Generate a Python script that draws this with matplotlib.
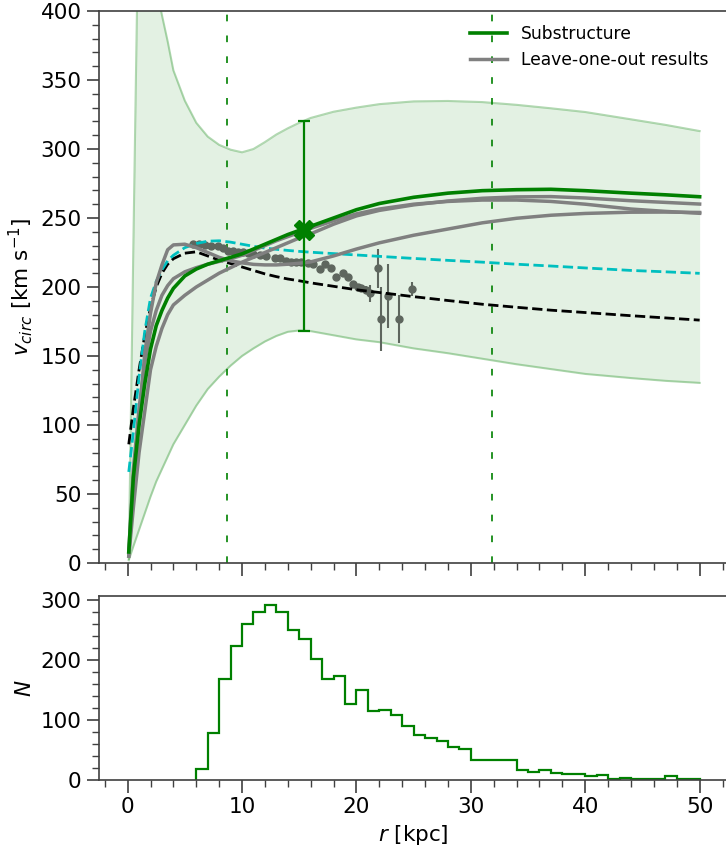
import numpy as np
import matplotlib
matplotlib.use("Agg")
import matplotlib.pyplot as plt
from matplotlib.ticker import MultipleLocator
from matplotlib.lines import Line2D


# ============================================================
# Data
# ============================================================

# common radius grid for the model curves (kpc)
R = [0.1, 0.5, 1, 1.5, 2, 2.5, 3, 3.5, 4, 5, 6, 7, 8, 9, 10, 11, 12, 13, 14,
     15, 16, 18, 20, 22, 25, 28, 31, 34, 37, 40, 44, 47, 50]

# substructure circular velocity (km/s)
v_sub = [8, 62, 100, 130, 155, 172, 183, 192, 199, 208, 213, 216.5, 219,
         221.5, 224, 227.5, 231, 234.5, 238, 241, 244, 250, 256, 260.5, 265,
         268, 269.8, 270.5, 270.8, 269.8, 268, 266.8, 265.4]

# leave-one-out curves
v_loo_a = [5, 40, 80, 110, 140, 157, 170, 180, 187, 194, 200, 205, 210, 214,
           218, 221.5, 225, 228.5, 232, 235.5, 238.5, 245.5, 251.5, 255.5,
           259.5, 262.3, 264.3, 265.3, 265.5, 264.5, 262.5, 261.3, 260.1]
v_loo_b = [8, 68, 112, 145, 168, 183, 194, 201, 206, 211, 214, 216.5, 218.5,
           220.5, 223, 226.5, 230, 233.5, 236.5, 239.5, 242.5, 248, 253,
           256.5, 260, 262, 263, 263, 262, 260, 256.5, 254.8, 253.4]
v_loo_c = [5, 55, 105, 152, 181, 203, 216, 227, 230.5, 231, 228.5, 225, 221.5,
           219, 217.5, 216.4, 216, 216, 216.5, 217.2, 218.2, 222.5, 227.5, 232,
           237.5, 242, 246.5, 249.8, 252, 253.3, 254.2, 254.3, 254]

# reference models (dashed)
v_black = [86, 112, 140, 165, 185, 200, 210, 216.5, 220.5, 224.5, 225.5,
           222.5, 219.5, 217, 214.5, 212, 209.5, 207.5, 205.8, 204.5, 203,
           200.5, 198, 196, 193, 190.2, 187.5, 185.3, 183.2, 181.5, 179.2,
           177.6, 176]
v_cyan = [66, 95, 135, 168, 192, 204, 212.5, 219, 223, 228.5, 231.5, 233.2,
          233.5, 232.5, 231, 229.5, 228.2, 227.3, 226.5, 225.8, 225.2, 224.2,
          223.2, 222.2, 220.7, 219.3, 218, 216.5, 215.2, 213.8, 212, 211, 209.9]

# uncertainty band
band_lo = [2, 12, 24, 36, 48, 59, 68, 77, 86, 100, 114, 126, 135, 143, 150,
           155.5, 160.5, 164.5, 167.5, 168.5, 168, 165, 162, 160, 155.5, 152,
           148, 144, 140.5, 137, 134, 132, 130.5]
band_hi = [3, 230, 500, 470, 440, 418, 397, 378, 357, 335, 319, 309, 303,
           299.5, 297.6, 300, 305, 310.5, 315, 319, 322.5, 327, 330, 332.5,
           334.5, 334.8, 334, 332, 329.5, 326.8, 321.5, 317.5, 313]

# observed rotation curve points
obs_r = [5.71, 6.2, 6.73, 7.31, 7.9, 8.35, 8.77, 9.21, 9.65, 10.08, 10.52,
         10.95, 11.54, 12.12, 12.85, 13.29, 13.87, 14.31, 14.74, 15.18, 15.76,
         16.2, 16.78, 17.22, 17.8, 18.24, 18.82, 19.26, 19.7, 20.13, 20.42,
         20.86, 21.15, 21.88, 22.17, 22.76, 23.72, 24.85]
obs_v = [231.2, 231, 230.4, 229.9, 229.7, 228, 226.3, 226.1, 225.6, 225.1,
         224.4, 223.9, 223.2, 222.7, 221.3, 220.8, 219.1, 218.4, 218.1, 217.9,
         217.6, 216.7, 212.8, 216.7, 213.5, 207.5, 209.9, 207, 202.2, 200.2,
         199, 197.8, 195.4, 213.5, 176.8, 193.5, 176.6, 198.3]
obs_err = [2, 2, 2, 2, 2, 2, 2, 2, 2, 2, 2, 2, 2, 2, 2, 2, 2, 2, 2, 2, 2, 2,
           2, 2, 2, 2, 2, 2, 2, 2, 2, 3, 6, 14, 23, 23.5, 17.5, 5]

# substructure estimate with asymmetric error
sub_r = 15.4
sub_v = 241.5
sub_err_lo = 73.5
sub_err_hi = 78.5

# vertical markers (kpc)
vlines_r = [8.65, 31.85]

# radial distribution histogram
hist_edges = list(range(6, 51))
hist_counts = [18, 79, 169, 223, 261, 280, 292, 280, 251, 236, 202, 168, 173,
               127, 150, 115, 117, 109, 90, 75, 70, 65, 55, 52, 33, 33, 34, 33,
               17, 14, 16, 12, 10, 10, 7, 9, 1, 4, 2, 2, 1, 6, 2, 2]


# ============================================================
# Plot
# ============================================================

SPINE = "0.25"
GREEN = "green"
GRAY = "grey"

fig = plt.figure(figsize=(7.26, 8.52), dpi=100)
ax1 = fig.add_axes([0.1364, 0.3392, 0.8667, 0.6479])
ax2 = fig.add_axes([0.1364, 0.0845, 0.8667, 0.2160])

# band
ax1.fill_between(R, band_lo, band_hi, color=GREEN, alpha=0.11, lw=0)
ax1.plot(R, band_lo, color=GREEN, alpha=0.3, lw=1.5)
ax1.plot(R, band_hi, color=GREEN, alpha=0.3, lw=1.5)

for xv in vlines_r:
    ax1.axvline(xv, color=GREEN, lw=1.2, dashes=(4, 8.5))

# observations
ax1.errorbar(obs_r, obs_v, yerr=obs_err, fmt="o", color="#5e665e",
             ms=5, elinewidth=1.5, capsize=0, zorder=3)

# reference models
ax1.plot(R, v_black, color="k", ls="--", lw=2, zorder=4)
ax1.plot(R, v_cyan, color="c", ls="--", lw=2, zorder=4)

# leave-one-out + substructure
for v in (v_loo_a, v_loo_b, v_loo_c):
    ax1.plot(R, v, color=GRAY, lw=2.5, zorder=5)
ax1.plot(R, v_sub, color=GREEN, lw=2.6, zorder=6)

ax1.errorbar([sub_r], [sub_v], yerr=[[sub_err_lo], [sub_err_hi]], fmt="X",
             color=GREEN, ms=14, elinewidth=1.6, capsize=4, capthick=1.6,
             zorder=7)

handles = [Line2D([], [], color=GREEN, lw=2.6),
           Line2D([], [], color=GRAY, lw=2.5)]
ax1.legend(handles, ["Substructure", "Leave-one-out results"],
           loc="upper right", bbox_to_anchor=(0.9905, 1.0), frameon=False,
           fontsize=12.3, handlelength=2.2, borderaxespad=0.4)

# histogram
ax2.stairs(hist_counts, hist_edges, color=GREEN, lw=1.6)

# axes cosmetics
for ax in (ax1, ax2):
    ax.set_xlim(-2.5, 52.5)
    ax.xaxis.set_major_locator(MultipleLocator(10))
    ax.xaxis.set_minor_locator(MultipleLocator(2))
    ax.tick_params(which="major", length=9, width=1.2, color=SPINE,
                   labelsize=15.5)
    ax.tick_params(which="minor", length=5, width=1.0, color=SPINE)
    for sp in ax.spines.values():
        sp.set_color(SPINE)
        sp.set_linewidth(1.2)

ax1.set_ylim(0, 400)
ax1.yaxis.set_major_locator(MultipleLocator(50))
ax1.yaxis.set_minor_locator(MultipleLocator(10))
ax1.tick_params(labelbottom=False)
ax1.set_ylabel(r"$v_{circ}$ [km s$^{-1}$]", fontsize=15.5)

ax2.set_ylim(0, 307)
ax2.yaxis.set_major_locator(MultipleLocator(100))
ax2.yaxis.set_minor_locator(MultipleLocator(20))
ax2.set_ylabel(r"$N$", fontsize=15.5)
ax2.set_xlabel(r"$r$ [kpc]", fontsize=15.5)

fig.savefig("out.png", dpi=100)
